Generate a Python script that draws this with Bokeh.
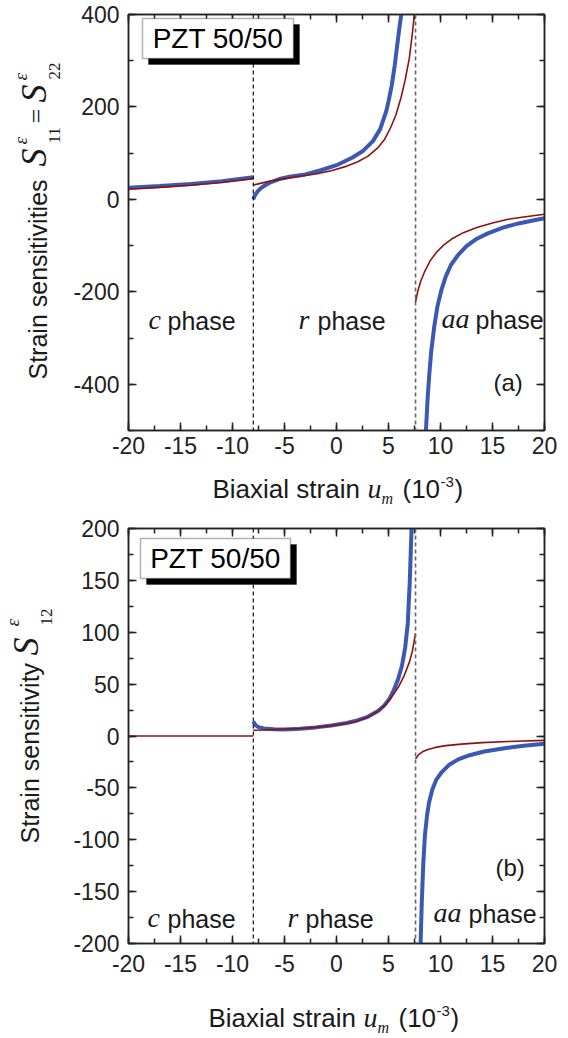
import math
from bokeh.plotting import figure
from bokeh.models import (Label, Span, BoxAnnotation, LinearAxis, SingleIntervalTicker, Range1d,
                          CustomJSTickFormatter)
from bokeh.layouts import column, row
from bokeh.embed import file_html
from bokeh.resources import INLINE

# ---------------- data ----------------
phase_bounds = [-8.0, 7.6]

# panel (a): S11 = S22
a_c_x = [-20, -17, -14, -11, -8]
a_c_blue = [25, 29, 33.5, 39.5, 48]
a_c_red = [22, 26, 30.5, 36.5, 45]

a_r_blue_x = [-8.0, -7.85, -7.6, -7.3, -6.9, -6.35, -5.5, -4.5, -3.0, -1.5, 0.0, 1.5, 2.5, 3.5, 4.2,
              4.8, 5.0, 5.3, 5.6, 5.9, 6.1, 6.3]
a_r_blue = [0, 9, 17, 24, 30, 37, 44, 49, 54, 63, 74, 90, 104, 126, 152,
            192, 212, 245, 290, 345, 380, 410]
a_r_red_x = [-8.0, -6.5, -5.0, -3.5, -2.0, -0.5, 1.0, 2.0, 3.0, 4.0, 4.6, 5.2, 5.7, 6.2, 6.6, 7.0,
             7.3, 7.45, 7.6]
a_r_red = [31, 39, 45, 50, 55, 62, 72, 81, 93, 112, 129, 155, 182, 220, 258, 305,
           360, 392, 430]

a_aa_red_x = [7.6, 7.8, 8.1, 8.5, 9.0, 9.6, 10.3, 11.2, 12.2, 13.5, 15, 16.5, 18, 20]
a_aa_red = [-222, -200, -177, -155, -133, -115, -99, -84, -72, -61, -51, -43, -38, -32]
a_aa_blue_x = [8.5, 8.6, 8.75, 8.9, 9.1, 9.4, 9.7, 10.1, 10.5, 11.0, 11.7, 12.5, 13.5, 14.5, 16,
               17.5, 19, 20]
a_aa_blue = [-540, -500, -435, -385, -330, -275, -232, -195, -167, -142, -120, -101, -85, -74, -61,
             -52, -45, -41]

# panel (b): S12
b_c_x = [-20, -8]
b_c_red = [0, 0]

b_r_blue_x = [-8.0, -7.8, -7.5, -7.0, -6.0, -5.0, -3.5, -2.0, -0.5, 1.0, 2.0, 3.0, 4.0, 4.6, 5.1,
              5.5, 5.9, 6.3, 6.6, 6.85, 7.05, 7.2, 7.3]
b_r_blue = [14, 10.5, 8.5, 7.3, 6.5, 6.3, 7, 8.3, 10.2, 12.5, 15, 18.5, 24, 29.5, 36,
            44, 54, 68, 85, 108, 150, 195, 230]
b_r_red_x = [-8.0, -7.0, -6.0, -5.0, -3.5, -2.0, -0.5, 1.0, 2.0, 3.0, 4.0, 4.8, 5.4, 6.0, 6.5,
             7.0, 7.3, 7.6]
b_r_red = [5.5, 5.8, 6.2, 6.6, 7.3, 8.3, 10, 12.3, 14.5, 18, 24, 31, 39, 48, 58,
           71, 82, 99]

b_aa_red_x = [7.6, 7.9, 8.3, 8.8, 9.5, 10.5, 12, 14, 16.5, 20]
b_aa_red = [-22, -18, -15, -13, -11, -9.3, -7.8, -6.4, -5.3, -4.2]
b_aa_blue_x = [8.0, 8.1, 8.2, 8.35, 8.5, 8.7, 8.9, 9.2, 9.6, 10.1, 10.8, 11.7, 12.8, 14.2, 16,
               18, 20]
b_aa_blue = [-235, -195, -160, -122, -96, -77, -64, -52, -42, -35, -28, -22.5, -18.5, -15, -12,
             -9.5, -7.5]

x_limits = [-20, 20]
a_y_limits = [-500, 400]
b_y_limits = [-200, 200]

BLUE = "#3a58b4"
RED = "#8c1212"
AX = "#222222"
TXT = "#1a1a1a"
SANS = "Liberation Sans"
SERIF = "Liberation Serif"

# page geometry (pixels)
PAGE_W = 568
YL_W = 64          # width of the y-label strip
FL, FR = 128, 544  # frame left / right on the page
MID = 0.35         # baseline -> middle offset, in em


def label_fig(x0, x1, y0, y1):
    """A blank canvas whose data coordinates equal page pixels."""
    w, h = x1 - x0, y1 - y0
    p = figure(frame_width=w, frame_height=h, min_border=0,
               min_border_left=0, min_border_right=0, min_border_top=0, min_border_bottom=0,
               x_range=Range1d(x0, x1), y_range=Range1d(y1, y0),
               x_axis_type=None, y_axis_type=None,
               output_backend="svg", toolbar_location=None,
               background_fill_color="white", border_fill_color="white")
    p.outline_line_color = None
    p.xgrid.visible = False
    p.ygrid.visible = False
    return p


def make_fig(frame_h, top_b, bot_b, ylim, yint, xstand):
    p = figure(frame_width=FR - FL, frame_height=frame_h,
               min_border_left=FL - YL_W, min_border_right=PAGE_W - FR,
               min_border_top=top_b, min_border_bottom=bot_b,
               x_range=Range1d(*x_limits), y_range=Range1d(*ylim),
               x_axis_type=None, y_axis_type=None,
               output_backend="svg", toolbar_location=None,
               background_fill_color="white", border_fill_color="white")
    p.outline_line_color = AX
    p.outline_line_width = 1.5
    for loc in ["below", "left", "above", "right"]:
        interval = 5 if loc in ("below", "above") else yint
        ax = LinearAxis(ticker=SingleIntervalTicker(interval=interval, num_minor_ticks=2))
        ax.formatter = CustomJSTickFormatter(code="return tick.toFixed(0);")
        ax.axis_line_color = AX
        ax.axis_line_width = 1.5
        ax.major_tick_in = 8
        ax.major_tick_out = 0
        ax.minor_tick_in = 5
        ax.minor_tick_out = 0
        ax.major_tick_line_color = AX
        ax.minor_tick_line_color = AX
        ax.major_tick_line_width = 1.5
        ax.minor_tick_line_width = 1.5
        ax.major_label_text_font = SANS
        if loc in ("below", "left"):
            ax.major_label_text_color = AX
            ax.major_label_text_font_size = "23px"
            ax.major_label_standoff = xstand if loc == "below" else 9
        else:
            ax.major_label_text_color = None
            ax.major_label_text_font_size = "1px"
            ax.major_label_standoff = 0
        p.add_layout(ax, loc)
    return p


def conv_factory(top_px, frame_h, ylim):
    def conv(px, py):
        x = x_limits[0] + (px - FL) * (x_limits[1] - x_limits[0]) / (FR - FL)
        y = ylim[1] - (py - top_px) * (ylim[1] - ylim[0]) / frame_h
        return x, y
    return conv


def ident(px, py):
    return px, py


def lab(p, conv, px, py, text, font=SANS, size=25, style="normal", align="left",
        angle=0.0, color=TXT, centered=False):
    """(px, py) is the baseline start point on the page; converted to a middle anchor."""
    if not centered:
        if angle == 0.0:
            py = py - MID * size
        else:
            px = px - MID * size
    x, y = conv(px, py)
    p.add_layout(Label(x=x, y=y, text=text, text_font=font, text_font_size=f"{size}px",
                       text_font_style=style, text_align=align, text_baseline="middle",
                       angle=angle, text_color=color))


def add_common(p, conv, box):
    p.add_layout(Span(location=phase_bounds[0], dimension="height", line_color="#111111",
                      line_width=1.2, line_dash="4 3"))
    p.add_layout(Span(location=phase_bounds[1], dimension="height", line_color="#666666",
                      line_width=1.6, line_dash="4 3"))
    l, t, r, b = box
    x0, y0 = conv(l + 6, t + 6)
    x1, y1 = conv(r + 6, b + 6)
    p.add_layout(BoxAnnotation(left=x0, right=x1, top=y0, bottom=y1, fill_color="black",
                               fill_alpha=1.0, line_color="black", line_width=1))
    x0, y0 = conv(l, t)
    x1, y1 = conv(r, b)
    p.add_layout(BoxAnnotation(left=x0, right=x1, top=y0, bottom=y1, fill_color="white",
                               fill_alpha=1.0, line_color="black", line_width=1.5))
    lab(p, conv, (l + r) / 2, (t + b) / 2, "PZT 50/50", size=28, align="center",
        color="black", centered=True)


def xlabel(p, bx, base):
    lab(p, ident, bx, base, "Biaxial strain", size=26)
    lab(p, ident, bx + 155, base, "u", font=SERIF, size=28, style="italic")
    lab(p, ident, bx + 169, base + 6, "m", font=SERIF, size=16, style="italic")
    lab(p, ident, bx + 190, base, "(10", size=26)
    lab(p, ident, bx + 228, base - 11, "-3", size=15)
    lab(p, ident, bx + 242, base, ")", size=26)


R = math.pi / 2

# ---------------- panel (a) ----------------
A_TOP, A_H, A_BOT = 14, 416, 40
A_FIG_H = A_TOP + A_H + A_BOT             # 470
p1 = make_fig(A_H, A_TOP, A_BOT, a_y_limits, 200, 6)
c1 = conv_factory(A_TOP, A_H, a_y_limits)

p1.line(a_c_x, a_c_blue, line_color=BLUE, line_width=4)
p1.line(a_r_blue_x, a_r_blue, line_color=BLUE, line_width=4)
p1.line(a_aa_blue_x, a_aa_blue, line_color=BLUE, line_width=4)
p1.line(a_c_x, a_c_red, line_color=RED, line_width=1.6)
p1.line(a_r_red_x, a_r_red, line_color=RED, line_width=1.6)
p1.line(a_aa_red_x, a_aa_red, line_color=RED, line_width=1.6)

add_common(p1, c1, (142, 18, 293, 58))

lab(p1, c1, 148, 329, "c", font=SERIF, size=28, style="italic")
lab(p1, c1, 167, 329, "phase", size=25)
lab(p1, c1, 298, 329, "r", font=SERIF, size=28, style="italic")
lab(p1, c1, 317, 329, "phase", size=25)
lab(p1, c1, 441, 328, "aa", font=SERIF, size=28, style="italic")
lab(p1, c1, 475, 328, "phase", size=25)
lab(p1, c1, 493, 390, "(a)", size=24)

yl1 = label_fig(0, YL_W, 0, A_FIG_H)
lab(yl1, ident, 46, 365, "Strain sensitivities", size=25, angle=R)
lab(yl1, ident, 46, 152, "S", font=SERIF, size=36, style="italic", angle=R)
lab(yl1, ident, 27, 130, "\u03b5", font=SERIF, size=19, style="italic", angle=R)
lab(yl1, ident, 60, 129, "11", font=SERIF, size=17, angle=R)
lab(yl1, ident, 45, 109, "=", font=SERIF, size=26, angle=R)
lab(yl1, ident, 46, 88, "S", font=SERIF, size=36, style="italic", angle=R)
lab(yl1, ident, 27, 66, "\u03b5", font=SERIF, size=19, style="italic", angle=R)
lab(yl1, ident, 60, 65, "22", font=SERIF, size=17, angle=R)

XL1_Y0, XL1_Y1 = A_FIG_H, 515
xl1 = label_fig(0, PAGE_W, XL1_Y0, XL1_Y1)
xlabel(xl1, 212, 498)

# ---------------- panel (b) ----------------
B_FRAME_TOP, B_H = 528, 415
B_TOPB = B_FRAME_TOP - XL1_Y1              # 13
B_BOT = 40
B_FIG_Y0 = XL1_Y1
B_FIG_Y1 = B_FRAME_TOP + B_H + B_BOT      # 983
p2 = make_fig(B_H, B_TOPB, B_BOT, b_y_limits, 50, 11)
c2 = conv_factory(B_FRAME_TOP, B_H, b_y_limits)

p2.line(b_r_blue_x, b_r_blue, line_color=BLUE, line_width=4)
p2.line(b_aa_blue_x, b_aa_blue, line_color=BLUE, line_width=4)
p2.line(b_c_x, b_c_red, line_color=RED, line_width=1.6)
p2.line(b_r_red_x, b_r_red, line_color=RED, line_width=1.6)
p2.line(b_aa_red_x, b_aa_red, line_color=RED, line_width=1.6)

add_common(p2, c2, (140, 538, 290, 578))

lab(p2, c2, 147, 927, "c", font=SERIF, size=28, style="italic")
lab(p2, c2, 167, 927, "phase", size=25)
lab(p2, c2, 287, 927, "r", font=SERIF, size=28, style="italic")
lab(p2, c2, 305, 927, "phase", size=25)
lab(p2, c2, 433, 922, "aa", font=SERIF, size=28, style="italic")
lab(p2, c2, 468, 922, "phase", size=25)
lab(p2, c2, 495, 875, "(b)", size=24)

yl2 = label_fig(0, YL_W, B_FIG_Y0, B_FIG_Y1)
lab(yl2, ident, 38, 830, "Strain sensitivity", size=25, angle=R)
lab(yl2, ident, 38, 642, "S", font=SERIF, size=36, style="italic", angle=R)
lab(yl2, ident, 19, 613, "\u03b5", font=SERIF, size=19, style="italic", angle=R)
lab(yl2, ident, 52, 612, "12", font=SERIF, size=17, angle=R)

xl2 = label_fig(0, PAGE_W, B_FIG_Y1, 1038)
xlabel(xl2, 208, 1027)

layout = column(row(yl1, p1, spacing=0), xl1, row(yl2, p2, spacing=0), xl2, spacing=0)
open("out.html", "w").write(file_html(layout, INLINE))
